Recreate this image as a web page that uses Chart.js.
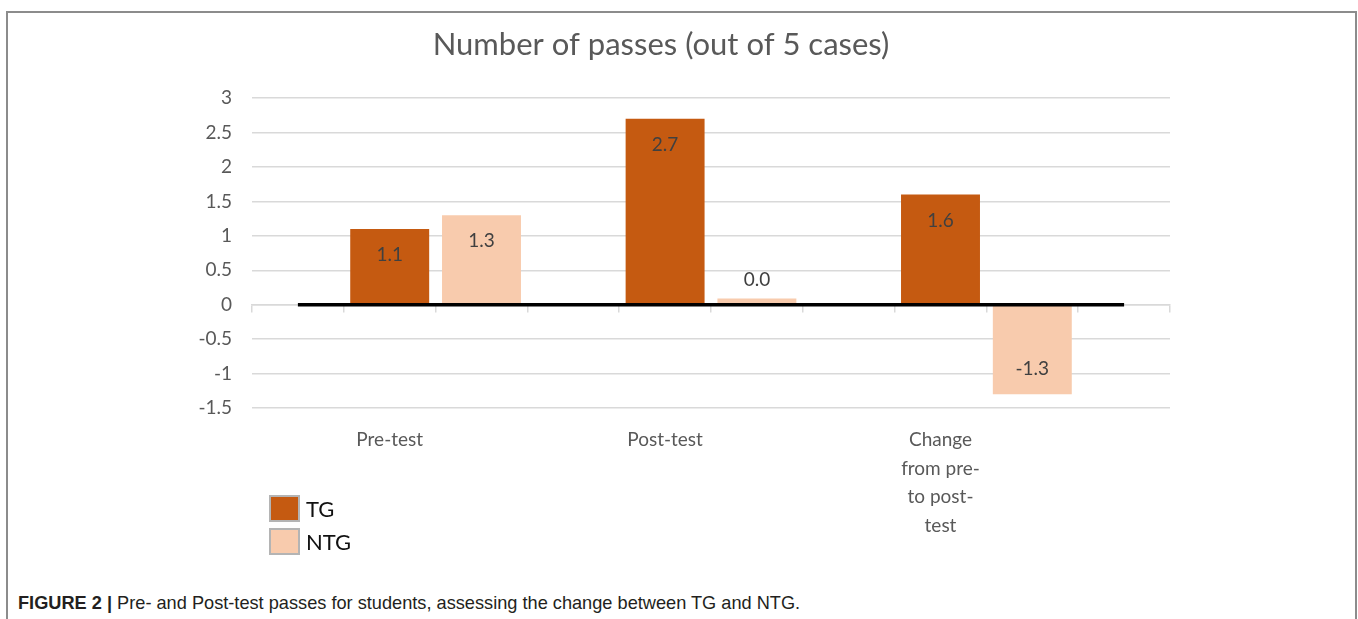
<!DOCTYPE html>
<html>
<head>
<meta charset="utf-8">
<script src="https://cdn.jsdelivr.net/npm/chart.js@4.4.1/dist/chart.umd.min.js"></script>
<style>
  body { margin: 0; background: #fff; overflow: hidden; }
  #frame {
    position: absolute; left: 6px; top: 11px; width: 1347px; height: 700px;
    border: 2px solid #8c8c8c;
  }
  #myChart { position: absolute; left: 0; top: 0; }
  #caption {
    position: absolute; left: 18px; top: 593px;
    font-family: 'Liberation Sans', Arial, sans-serif; font-size: 18.2px; color: #231f20;
  }
  #caption b { font-weight: bold; }
</style>
</head>
<body>
<div id="frame"></div>
<canvas id="myChart" width="1358" height="560"></canvas>
<div id="caption"><b>FIGURE 2 |</b> Pre- and Post-test passes for students, assessing the change between TG and NTG.</div>
<script>
'use strict';

// data
let categories = ['Pre-test', 'Post-test', ['Change', 'from pre-', 'to post-', 'test']];
let tgValues = [1.1, 2.7, 1.6];
let ntgValues = [1.3, 0.09, -1.3];
let seriesNames = ['TG', 'NTG'];
let seriesColors = ['#c55a11', '#f8cbad'];

// excel layout: empty slot, TG, NTG per group, plus one empty slot at the end
let slotLabels = [];
let tgSlots = [];
let ntgSlots = [];
for (let i = 0; i < categories.length; i++) {
  slotLabels.push('', categories[i], '');
  tgSlots.push(null, tgValues[i], null);
  ntgSlots.push(null, null, ntgValues[i]);
}
slotLabels.push('');
tgSlots.push(null);
ntgSlots.push(null);
let zeroLine = slotLabels.map(() => 0);

// labels shown with one decimal, cut like in the figure
function labelText(v) {
  let t = Math.trunc(v * 10 + (v >= 0 ? 1e-6 : -1e-6)) / 10;
  return t.toFixed(1);
}

let barLabels = {
  id: 'barLabels',
  afterDatasetsDraw(chart) {
    let ctx = chart.ctx;
    ctx.save();
    ctx.font = '19px Lato';
    ctx.fillStyle = '#404040';
    ctx.textAlign = 'center';
    ctx.textBaseline = 'middle';
    chart.data.datasets.forEach((ds, di) => {
      if (ds.type === 'line') return;
      chart.getDatasetMeta(di).data.forEach((el, i) => {
        let v = ds.data[i];
        if (v === null) return;
        let h = Math.abs(el.base - el.y);
        let y;
        if (h > 40) {
          y = v >= 0 ? el.y + 26 : el.y - 25;
        } else {
          y = el.y - 19;
        }
        ctx.fillText(labelText(v), el.x, y);
      });
    });
    ctx.restore();
  }
};

let boxLegend = {
  id: 'boxLegend',
  afterDraw(chart) {
    let ctx = chart.ctx;
    let a = chart.chartArea;
    ctx.save();
    ctx.font = '22px Lato';
    ctx.textBaseline = 'middle';
    for (let i = 0; i < seriesNames.length; i++) {
      let x = a.left + 18;
      let y = a.bottom + 88 + i * 33;
      ctx.fillStyle = seriesColors[i];
      ctx.fillRect(x, y, 29, 25);
      ctx.strokeStyle = '#b4b4b4';
      ctx.lineWidth = 2;
      ctx.strokeRect(x, y, 29, 25);
      ctx.fillStyle = '#111';
      ctx.fillText(seriesNames[i], x + 36, y + 14);
    }
    ctx.restore();
  }
};

Chart.defaults.font.family = 'Lato';

let ctx = document.getElementById('myChart').getContext('2d');
let myChart = new Chart(ctx, {
  type: 'bar',
  data: {
    labels: slotLabels,
    datasets: [{
      type: 'line',
      label: 'zero',
      data: zeroLine,
      borderColor: '#000',
      borderWidth: 3.5,
      pointRadius: 0,
      order: 0
    }, {
      label: seriesNames[0],
      data: tgSlots,
      backgroundColor: seriesColors[0],
      grouped: false,
      categoryPercentage: 1,
      barPercentage: 0.86,
      order: 1
    }, {
      label: seriesNames[1],
      data: ntgSlots,
      backgroundColor: seriesColors[1],
      grouped: false,
      categoryPercentage: 1,
      barPercentage: 0.86,
      order: 1
    }]
  },
  options: {
    responsive: false,
    animation: false,
    devicePixelRatio: 1,
    layout: {
      padding: { left: 152, right: 188, bottom: 12 }
    },
    plugins: {
      legend: { display: false },
      tooltip: { enabled: false },
      title: {
        display: true,
        text: 'Number of passes (out of 5 cases)',
        color: '#595959',
        font: { size: 31, weight: 'normal' },
        padding: { top: 26, bottom: 35 }
      }
    },
    scales: {
      x: {
        offset: true,
        grid: { display: false },
        border: { display: false },
        ticks: {
          color: '#595959',
          font: { size: 19, lineHeight: 1.5 },
          padding: 10,
          autoSkip: false,
          maxRotation: 0
        },
        afterFit: (s) => { s.height = 140; }
      },
      x2: {
        type: 'category',
        position: { y: 0 },
        offset: true,
        grid: {
          offset: true,
          drawOnChartArea: false,
          color: '#d9d9d9',
          lineWidth: 1.5,
          tickLength: 7
        },
        border: { color: '#d9d9d9', width: 1.5 },
        ticks: { display: false }
      },
      y: {
        min: -1.5,
        max: 3,
        grid: { color: '#d9d9d9', lineWidth: 1.5, drawTicks: false },
        border: { display: false },
        ticks: {
          stepSize: 0.5,
          color: '#595959',
          font: { size: 19 },
          padding: 20,
          callback: (v) => String(v)
        },
        afterFit: (s) => { s.width = 100; }
      }
    }
  },
  plugins: [barLabels, boxLegend]
});
</script>
</body>
</html>
